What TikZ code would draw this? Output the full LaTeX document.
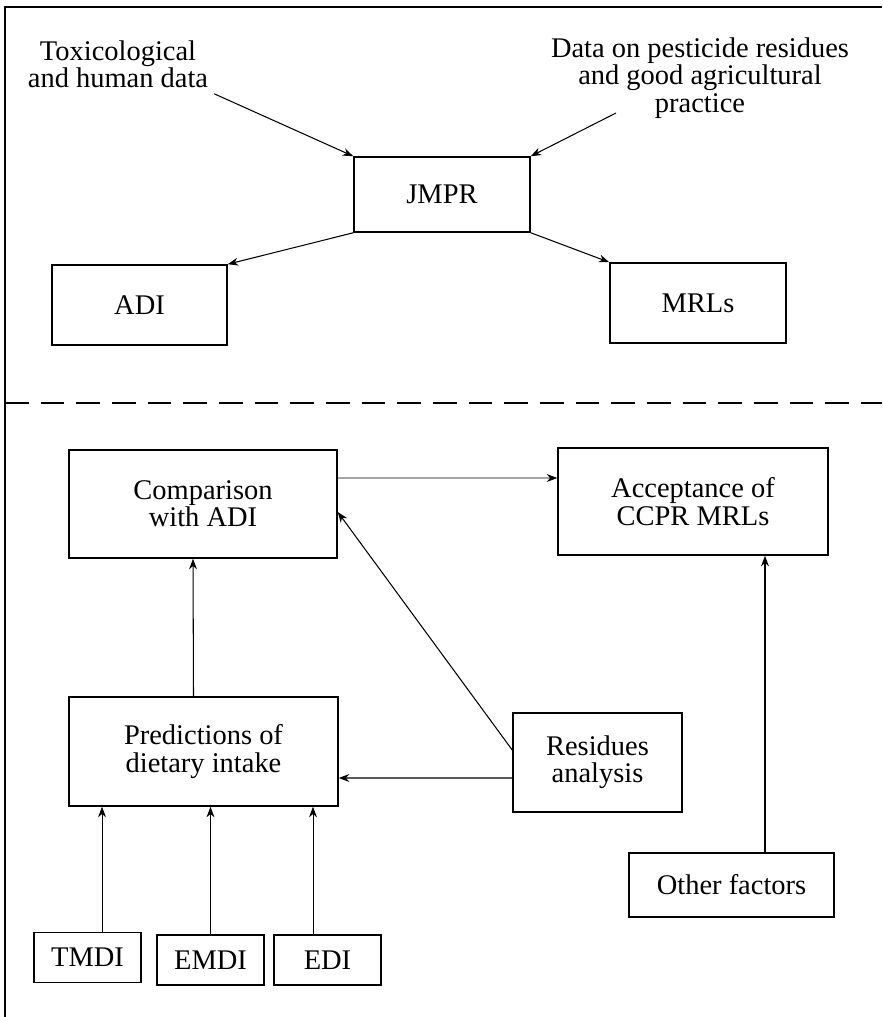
\documentclass[tikz,border=0pt]{standalone}
\usepackage{fontspec}
\setmainfont{Liberation Serif}
\usepackage{tikz}
\usetikzlibrary{arrows.meta}

\begin{document}
\begin{tikzpicture}[x=0.02cm, y=-0.02cm, >={Stealth[length=6pt,width=4.5pt]},
    every node/.style={font=\fontsize{16.2}{15.5}\selectfont},
    box/.style={draw, line width=0.9pt, inner sep=0pt, align=center},
    link/.style={->, line width=0.6pt}]
      \useasboundingbox (0,0) rectangle (882,1017);

      % frame and split
      \draw[line width=1pt] (5,1017) -- (5,7) -- (882,7);
      \draw[line width=1.4pt, dash pattern=on 13.5pt off 6.8pt] (5,403) -- (882,403);

      % upper half
      \node[align=center] (tox) at (118,64) {Toxicological\\and human data};
      \node[align=center] (data) at (700,78) {Data on pesticide residues\\and good agricultural\\practice};
      \coordinate (dataout) at (616,113);
      \node[box, minimum width=3.52cm, minimum height=1.5cm] (jmpr) at (442,194.5) {JMPR};
      \node[box, minimum width=3.5cm, minimum height=1.6cm] (adi) at (139.5,305) {ADI};
      \node[box, minimum width=3.52cm, minimum height=1.6cm] (mrls) at (698,303) {MRLs};

      \draw[link] (tox.south east) -- (jmpr.north west);
      \draw[link] (dataout) -- (jmpr.north east);
      \draw[link] (jmpr.south west) -- (adi.north east);
      \draw[link] (jmpr.south east) -- (mrls.north west);

      % lower half
      \node[box, minimum width=5.36cm, minimum height=2.16cm] (comp) at (203,504) {Comparison\\with ADI};
      \node[box, minimum width=5.4cm, minimum height=2.14cm] (accept) at (693,501.5) {Acceptance of\\CCPR MRLs};
      \node[box, minimum width=5.38cm, minimum height=2.18cm] (pred) at (203.5,751.5) {Predictions of\\dietary intake};
      \node[box, minimum width=3.38cm, minimum height=1.98cm] (resid) at (597.5,762.5) {Residues\\analysis};
      \node[box, minimum width=4.1cm, minimum height=1.28cm] (other) at (731.5,885) {Other factors};
      \node[box, minimum width=2.14cm, minimum height=1cm] (tmdi) at (87.5,957.5) {TMDI};
      \node[box, minimum width=2.14cm, minimum height=1cm] (emdi) at (210.5,960) {EMDI};
      \node[box, minimum width=2.14cm, minimum height=1cm] (edi) at (327.5,960) {EDI};

      \draw[link, line width=0.4pt] ([yshift=5.2mm]comp.east) -- ([yshift=4.7mm]accept.west);
      \draw[link] ([xshift=-2mm]pred.north) -- ([xshift=-2mm]comp.south);
      \draw[link] ([yshift=2.5mm]resid.west) -- ([yshift=-1.6mm]comp.east);
      \draw[link] ([yshift=-3.1mm]resid.west) -- ([yshift=-5.3mm]pred.east);
      \draw[link] ([xshift=6.7mm]other.north) -- ([xshift=6.7mm]other.north |- accept.south);
      \foreach \n/\s in {tmdi/2.9mm,emdi/0mm,edi/-2.9mm}
      \draw[link, line width=0.4pt] ([xshift=\s]\n.north) -- ([xshift=\s]\n.north |- pred.south);
    \end{tikzpicture}
\end{document}
